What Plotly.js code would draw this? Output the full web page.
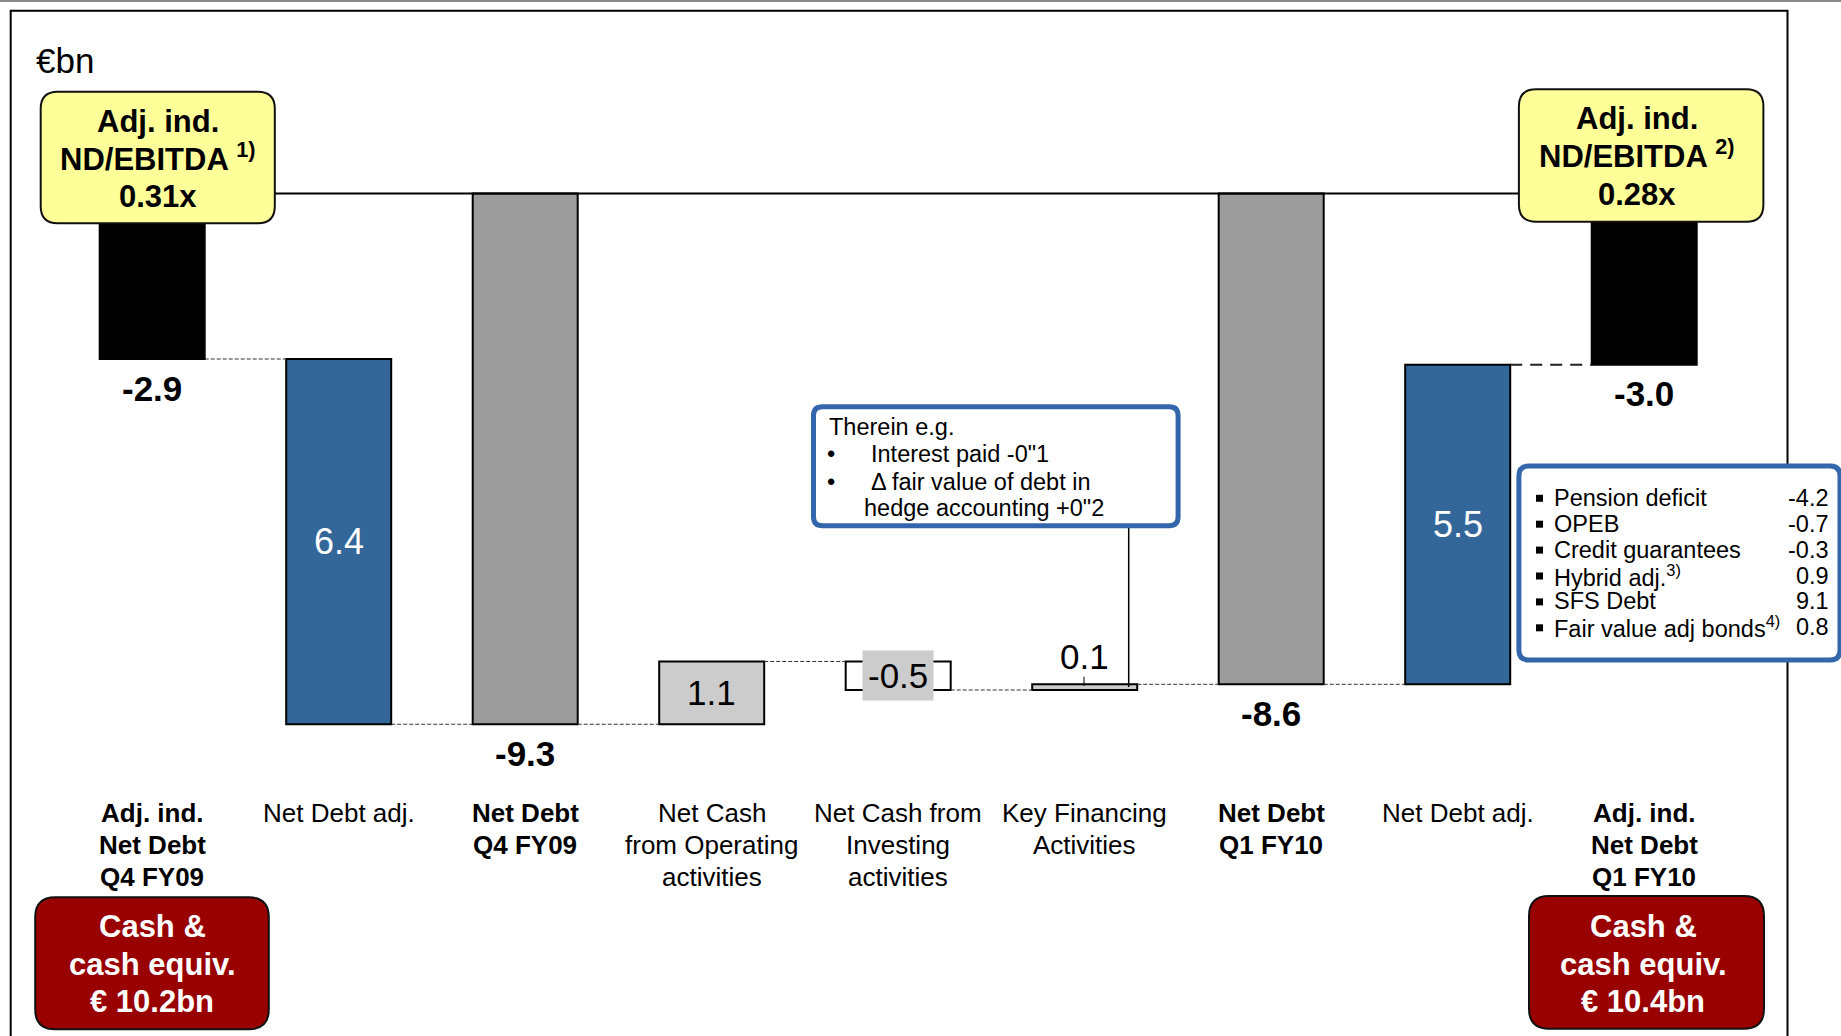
<!DOCTYPE html>
<html><head><meta charset="utf-8">
<script src="https://cdn.plot.ly/plotly-3.0.1.min.js"></script>
<style>html,body{margin:0;padding:0;background:#fff;overflow:hidden}</style>
</head><body>
<div id="chart" style="width:1841px;height:1036px"></div>
<script>
// ---------------- DATA ----------------
const categories = [
  "Adj. ind.<br>Net Debt<br>Q4 FY09",
  "Net Debt adj.",
  "Net Debt<br>Q4 FY09",
  "Net Cash<br>from Operating<br>activities",
  "Net Cash from<br>Investing<br>activities",
  "Key Financing<br>Activities",
  "Net Debt<br>Q1 FY10",
  "Net Debt adj.",
  "Adj. ind.<br>Net Debt<br>Q1 FY10"
];
const stepKinds = ["total", "adjustment", "total", "flow", "flow", "flow", "total", "adjustment", "total"];
const values = [-2.9, 6.4, -9.3, 1.1, -0.5, 0.1, -8.6, 5.5, -3.0];
const unitLabel = "€bn";
const ndEbitda = ["0.31x", "0.28x"];
const ndEbitdaNotes = ["1)", "2)"];
const cashEquiv = ["€ 10.2bn", "€ 10.4bn"];
const financingNotes = ["Interest paid -0\"1", "Δ fair value of debt in", "hedge accounting +0\"2"];
const adjItems = ["Pension deficit", "OPEB", "Credit guarantees", "Hybrid adj.<sup>3)</sup>", "SFS Debt", "Fair value adj bonds<sup>4)</sup>"];
const adjItemValues = [-4.2, -0.7, -0.3, 0.9, 9.1, 0.8];

// ---------------- STYLE / GEOMETRY ----------------
const W = 1841, H = 1036;
const ZERO_PX = 193.5, PX_PER_UNIT = 57.07, C0 = 152.2, STEP = 186.5;
const yTop = ZERO_PX / PX_PER_UNIT, yBot = yTop - H / PX_PER_UNIT;
const xL = -C0 / STEP, xR = (W - C0) / STEP;
const BAR_W = 0.563;
const FONT = '"Liberation Sans", Arial, Helvetica, sans-serif';
const barColors = ['#000000', '#336699', '#9c9c9c', '#cccccc', '#ffffff', '#cccccc', '#9c9c9c', '#336699', '#000000'];
const BLUE_BORDER = '#3366aa';

const X = p => p / W;           // pixel -> paper x
const Y = p => 1 - p / H;       // pixel -> paper y
const f = v => v.toFixed(5);

function roundRect(x0, y0, x1, y1, r) {
  return `M${f(X(x0 + r))},${f(Y(y0))} L${f(X(x1 - r))},${f(Y(y0))} Q${f(X(x1))},${f(Y(y0))} ${f(X(x1))},${f(Y(y0 + r))} ` +
         `L${f(X(x1))},${f(Y(y1 - r))} Q${f(X(x1))},${f(Y(y1))} ${f(X(x1 - r))},${f(Y(y1))} ` +
         `L${f(X(x0 + r))},${f(Y(y1))} Q${f(X(x0))},${f(Y(y1))} ${f(X(x0))},${f(Y(y1 - r))} ` +
         `L${f(X(x0))},${f(Y(y0 + r))} Q${f(X(x0))},${f(Y(y0))} ${f(X(x0 + r))},${f(Y(y0))} Z`;
}

// ---------------- WATERFALL GEOMETRY FROM DATA ----------------
const idx = categories.map((_, i) => i);
const bases = [], ends = [];
let level = 0;
for (let i = 0; i < values.length; i++) {
  let b, e;
  if (stepKinds[i] === 'total') { b = 0; e = values[i]; }
  else if (stepKinds[i] === 'flow') { b = level; e = level + values[i]; }
  else { // adjustment reconciles to next total
    b = level;
    let j = i + 1; while (j < values.length && stepKinds[j] !== 'total') j++;
    e = values[j];
  }
  bases.push(b); ends.push(e); level = e;
}

const barTrace = {
  type: 'bar', x: idx, y: ends.map((e, i) => e - bases[i]), base: bases,
  width: BAR_W,
  marker: { color: barColors, line: { color: '#000', width: 2 } },
  hoverinfo: 'none', showlegend: false
};

// ---------------- SHAPES ----------------
const shapes = [];
shapes.push({ type: 'line', xref: 'paper', yref: 'paper', x0: 0, x1: 1, y0: Y(1), y1: Y(1), line: { color: '#8a8a8a', width: 2 }, layer: 'above' });
shapes.push({ type: 'path', xref: 'paper', yref: 'paper',
  path: `M${f(X(10.7))},${f(Y(1040))} L${f(X(10.7))},${f(Y(10.7))} L${f(X(1787.5))},${f(Y(10.7))} L${f(X(1787.5))},${f(Y(1040))}`,
  line: { color: '#000', width: 2 }, layer: 'above' });
shapes.push({ type: 'line', xref: 'paper', yref: 'y', x0: X(274.8), x1: X(1518.9), y0: 0, y1: 0, line: { color: '#000', width: 2 }, layer: 'above' });
for (let i = 0; i < values.length - 1; i++) {
  const last = i === values.length - 2;
  shapes.push({ type: 'line', xref: 'x', yref: 'y', x0: i + BAR_W / 2, x1: i + 1 - BAR_W / 2, y0: ends[i], y1: ends[i],
    line: { color: last ? '#222' : '#333', width: last ? 2 : 1, dash: last ? '12px,8px' : '4px,2px' }, layer: 'above' });
}
shapes.push({ type: 'path', xref: 'paper', yref: 'paper', path: roundRect(40.7, 91.7, 274.8, 223.3, 17), fillcolor: '#ffff99', line: { color: '#111', width: 2 }, layer: 'above' });
shapes.push({ type: 'path', xref: 'paper', yref: 'paper', path: roundRect(1518.9, 89.3, 1763.4, 221.7, 17), fillcolor: '#ffff99', line: { color: '#111', width: 2 }, layer: 'above' });
shapes.push({ type: 'path', xref: 'paper', yref: 'paper', path: roundRect(35.2, 897.3, 268.8, 1029.3, 20), fillcolor: '#990000', line: { color: '#111', width: 2 }, layer: 'above' });
shapes.push({ type: 'path', xref: 'paper', yref: 'paper', path: roundRect(1529, 896, 1764, 1028.7, 20), fillcolor: '#990000', line: { color: '#111', width: 2 }, layer: 'above' });
shapes.push({ type: 'line', xref: 'paper', yref: 'paper', x0: X(1128.7), x1: X(1128.7), y0: Y(525), y1: Y(687), line: { color: '#000', width: 1.5 }, layer: 'above' });
shapes.push({ type: 'line', xref: 'paper', yref: 'paper', x0: X(1084), x1: X(1084), y0: Y(676.7), y1: Y(686), line: { color: '#000', width: 1 }, layer: 'above' });
shapes.push({ type: 'path', xref: 'paper', yref: 'paper', path: roundRect(813.5, 406.7, 1178.1, 525.7, 9), fillcolor: '#ffffff', line: { color: BLUE_BORDER, width: 5 }, layer: 'above' });
shapes.push({ type: 'path', xref: 'paper', yref: 'paper', path: roundRect(1518.9, 466, 1840, 660, 10), fillcolor: '#ffffff', line: { color: BLUE_BORDER, width: 5 }, layer: 'above' });

// ---------------- ANNOTATIONS ----------------
const ann = [];
function txt(x, y, text, opts) {
  const o = Object.assign({ xref: 'paper', yref: 'paper', x: X(x), y: Y(y), text: text, showarrow: false,
    xanchor: 'center', yanchor: 'middle', font: { family: FONT, size: 24, color: '#000' } }, opts || {});
  ann.push(o);
}
txt(33.6, 60.5, unitLabel, { xanchor: 'left', font: { family: FONT, size: 35, color: '#000' } });

categories.forEach((c, i) => {
  const bold = stepKinds[i] === 'total';
  c.split('<br>').forEach((line, k) => {
    ann.push({ xref: 'x', yref: 'paper', x: i, y: Y(813.3 + 31.7 * k), text: bold ? '<b>' + line + '</b>' : line,
      showarrow: false, xanchor: 'center', yanchor: 'middle', font: { family: FONT, size: 26, color: '#000' } });
  });
});

values.forEach((v, i) => {
  const label = v.toFixed(1);
  const lo = Math.min(bases[i], ends[i]), hi = Math.max(bases[i], ends[i]);
  const base = { xref: 'x', yref: 'y', x: i, showarrow: false, xanchor: 'center', yanchor: 'middle' };
  if (stepKinds[i] === 'total') {
    ann.push(Object.assign(base, { y: ends[i], yshift: -29, text: '<b>' + label + '</b>', font: { family: FONT, size: 35, color: '#000' } }));
  } else if (stepKinds[i] === 'adjustment') {
    ann.push(Object.assign(base, { y: (lo + hi) / 2, text: label, font: { family: FONT, size: 36, color: '#ffffff' } }));
  } else if (Math.abs(v) < 0.3) {
    ann.push(Object.assign(base, { y: hi, yshift: 28, text: label, font: { family: FONT, size: 35, color: '#000' } }));
  } else if (v < 0) {
    ann.push(Object.assign(base, { y: (lo + hi) / 2, text: label, bgcolor: '#cccccc', borderpad: 5, font: { family: FONT, size: 35, color: '#000' } }));
  } else {
    ann.push(Object.assign(base, { y: (lo + hi) / 2, text: label, font: { family: FONT, size: 35, color: '#000' } }));
  }
});

const yl = [[157.5, [121, 158.5, 196]], [1637, [118.6, 156.2, 194.9]]];
yl.forEach((b, k) => {
  const lines = ['Adj. ind.', 'ND/EBITDA <sup>' + ndEbitdaNotes[k] + '</sup>', ndEbitda[k]];
  lines.forEach((t, j) => txt(b[0], b[1][j] + (j === 1 ? -2 : 0), '<b>' + t + '</b>', { font: { family: FONT, size: 31, color: '#000' } }));
});
const rl = [[152, [926.7, 964.5, 1001.7]], [1643, [926.4, 964, 1001.5]]];
rl.forEach((b, k) => {
  const lines = ['Cash &', 'cash equiv.', cashEquiv[k]];
  lines.forEach((t, j) => txt(b[0], b[1][j], '<b>' + t + '</b>', { font: { family: FONT, size: 31, color: '#ffffff' } }));
});

txt(827, 426.7, 'Therein e.g.', { xanchor: 'left', font: { family: FONT, size: 23.5, color: '#000' } });
txt(831, 454, '•', { font: { family: FONT, size: 23.5, color: '#000' } });
txt(869, 454, financingNotes[0], { xanchor: 'left', font: { family: FONT, size: 23.5, color: '#000' } });
txt(831, 481.7, '•', { font: { family: FONT, size: 23.5, color: '#000' } });
txt(869, 481.7, financingNotes[1], { xanchor: 'left', font: { family: FONT, size: 23.5, color: '#000' } });
txt(862, 508.3, financingNotes[2], { xanchor: 'left', font: { family: FONT, size: 23.5, color: '#000' } });

adjItems.forEach((t, k) => {
  const yc = 497.8 + 25.9 * k;
  shapes.push({ type: 'rect', xref: 'paper', yref: 'paper', x0: X(1536), x1: X(1543), y0: Y(yc - 3), y1: Y(yc + 4), fillcolor: '#000', line: { width: 0 }, layer: 'above' });
  txt(1552, yc, t, { xanchor: 'left', font: { family: FONT, size: 23.5, color: '#000' } });
  txt(1831, yc, adjItemValues[k].toFixed(1), { xanchor: 'right', font: { family: FONT, size: 23.5, color: '#000' } });
});

const layout = {
  width: W, height: H,
  margin: { l: 0, r: 0, t: 0, b: 0, pad: 0 },
  paper_bgcolor: '#ffffff', plot_bgcolor: '#ffffff',
  showlegend: false,
  xaxis: { range: [xL, xR], visible: false, showgrid: false, zeroline: false, fixedrange: true },
  yaxis: { range: [yBot, yTop], visible: false, showgrid: false, zeroline: false, fixedrange: true },
  shapes: shapes,
  annotations: ann,
  font: { family: FONT }
};

Plotly.newPlot('chart', [barTrace], layout, { staticPlot: true, displayModeBar: false });
</script>
</body></html>
